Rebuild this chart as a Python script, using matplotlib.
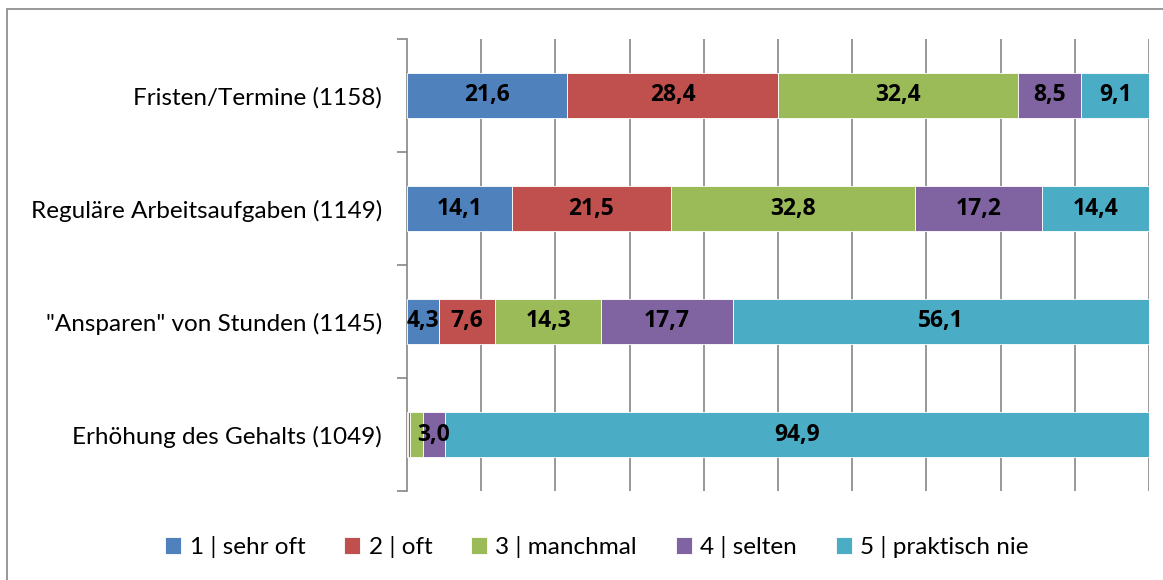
import matplotlib
matplotlib.use("Agg")
import matplotlib.pyplot as plt
from matplotlib.patches import Rectangle
import numpy as np

plt.rcParams['font.family'] = ['Lato', 'DejaVu Sans']

categories = [
    "Fristen/Termine (1158)",
    "Reguläre Arbeitsaufgaben (1149)",
    "\"Ansparen\" von Stunden (1145)",
    "Erhöhung des Gehalts (1049)",
]
series_names = ["1 | sehr oft", "2 | oft", "3 | manchmal", "4 | selten", "5 | praktisch nie"]
sehr_oft = [21.6, 14.1, 4.3, 0.2]
oft = [28.4, 21.5, 7.6, 0.2]
manchmal = [32.4, 32.8, 14.3, 1.7]
selten = [8.5, 17.2, 17.7, 3.0]
praktisch_nie = [9.1, 14.4, 56.1, 94.9]
colors = ["#4F81BD", "#C0504D", "#9BBB59", "#8064A2", "#4BACC6"]

series = [sehr_oft, oft, manchmal, selten, praktisch_nie]

W, H = 1163, 580
fig = plt.figure(figsize=(W / 100, H / 100), dpi=100)
ax = fig.add_axes([407 / W, 1 - 491 / H, (1149 - 407) / W, (491 - 39) / H])

# outer chart frame
fig.patches.append(Rectangle((7 / W, -0.1), 1.2, 1 - 9 / H + 0.1, transform=fig.transFigure,
                             fill=False, edgecolor="#868686", linewidth=1.2))

ypos = np.arange(len(categories))[::-1]
left = np.zeros(len(categories))
for vals, name, col in zip(series, series_names, colors):
    vals = np.array(vals)
    ax.barh(ypos, vals, left=left, height=0.4, color=col, label=name,
            edgecolor="white", linewidth=0.6, zorder=3)
    for y, l, v in zip(ypos, left, vals):
        if v >= 3:
            ax.text(l + v / 2, y, f"{v:.1f}".replace(".", ","), ha="center", va="center",
                    fontsize=16.5, fontweight="bold", family=["Open Sans", "DejaVu Sans"],
                    color="black", zorder=4)
    left += vals

ax.set_xlim(0, 100)
ax.set_ylim(-0.5, len(categories) - 0.5)
ax.set_xticks(np.arange(10, 101, 10))
ax.tick_params(axis="x", length=0, labelbottom=False)
ax.grid(axis="x", color="#868686", linewidth=1.2, zorder=0)
ax.set_yticks(ypos)
ax.set_yticklabels(categories, fontsize=17.5)
ax.tick_params(axis="y", length=0, pad=18)
ax.set_yticks(np.arange(-0.5, len(categories), 1), minor=True)
ax.tick_params(axis="y", which="minor", length=7, width=1.2, color="#868686")
for s in ["top", "right", "bottom"]:
    ax.spines[s].set_visible(False)
ax.spines["left"].set_color("#868686")
ax.spines["left"].set_linewidth(1.2)

fig.legend(loc="center", bbox_to_anchor=(597 / W, 1 - 547 / H), ncol=5, frameon=False,
           fontsize=17.5, handlelength=0.65, handleheight=0.65, handletextpad=0.35,
           columnspacing=1.6)

fig.savefig("out.png", dpi=100)
